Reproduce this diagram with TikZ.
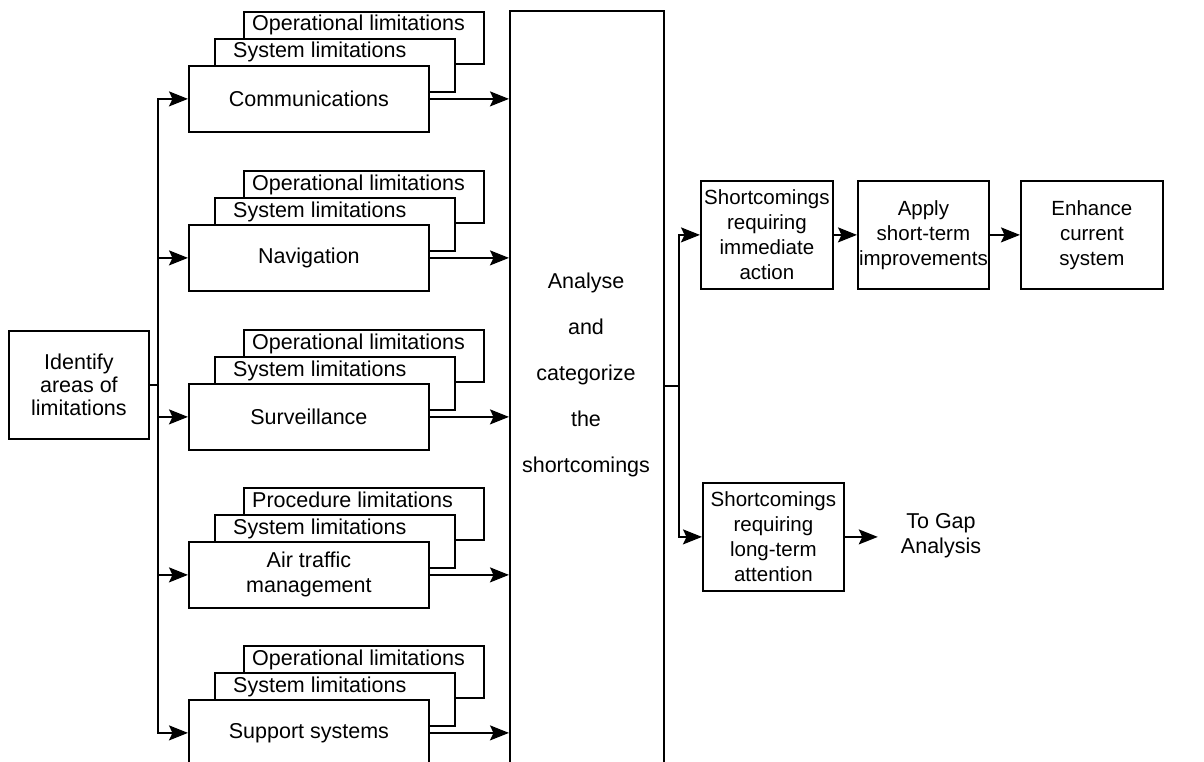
\documentclass[tikz,border=0pt]{standalone}
\usepackage{fontspec}
\setmainfont{Liberation Sans}
\usetikzlibrary{arrows.meta}

\tikzset{
  box/.style={draw, line width=1.8pt, fill=white, inner sep=0pt, anchor=north west},
  lbl/.style={anchor=base west, inner sep=0pt, font=\fontsize{21.5}{25}\selectfont},
  txt/.style={align=center, inner sep=0pt, font=\fontsize{21.5}{25}\selectfont},
  rtxt/.style={align=center, inner sep=0pt, font=\fontsize{20.5}{25}\selectfont},
  flow/.style={line width=1.8pt, -{Stealth[length=19pt,width=15pt,inset=3.5pt]}},
  wire/.style={line width=1.8pt, line cap=rect},
}

% one area of limitations: two stacked limitation cards behind the main box
% #1 node name, #2 top of the main box, #3 upper card, #4 main text
\newcommand\limstack[4]{%
  \node[box, minimum width=240pt, minimum height=52pt] (#1-op) at (243,#2-54) {};
  \node[lbl] (#1-opt) at ([xshift=9pt,yshift=-20pt]#1-op.north west) {#3};
  \node[box, minimum width=240pt, minimum height=53pt] (#1-sys) at (214,#2-27) {};
  \node[lbl] (#1-syst) at ([xshift=19pt,yshift=-20pt]#1-sys.north west) {System limitations};
  \node[box, txt, minimum width=240pt, minimum height=66pt] (#1) at (188,#2) {#4};
  \draw[flow] (#1.west -| ltop) -- (#1.west);
  \draw[flow] (#1.east) -- (#1.east -| an.west);
}

\begin{document}
\begin{tikzpicture}[x=1pt, y=-1pt]
  \useasboundingbox (0,0) rectangle (1204,762);
  \clip (0,0) rectangle (1204,762);

  % central analysis column (runs off the lower edge)
  \node[box, minimum width=154pt, minimum height=800pt] (an) at (509,10) {};
  \node[txt, font=\fontsize{21.5}{46}\selectfont] (antext) at (586,375)
    {Analyse\\and\\categorize\\the\\shortcomings};

  % starting box and the trunk feeding the five areas
  \node[box, txt, font=\fontsize{21.5}{23}\selectfont, minimum width=140pt, minimum height=108pt]
    (ident) at (8,330) {Identify\\areas of\\limitations};
  \coordinate (ltop) at (158,98);

  \limstack{comm}{65}{Operational limitations}{Communications}
  \limstack{nav}{224}{Operational limitations}{Navigation}
  \limstack{surv}{383}{Operational limitations}{Surveillance}
  \limstack{atm}{541}{Procedure limitations}{Air traffic\\management}
  \limstack{supp}{699}{Operational limitations}{Support systems}

  \draw[wire] (comm.west -| ltop) -- (supp.west -| ltop);
  \draw[wire] (ident.east) -- (ident.east -| ltop);

  % categorised outcomes
  \node[box, rtxt, minimum width=132pt, minimum height=108pt] (s1) at (700,180)
    {Shortcomings\\requiring\\immediate\\action};
  \node[box, rtxt, minimum width=131pt, minimum height=108pt] (s2) at (857,180)
    {Apply\\short-term\\improvements};
  \node[box, rtxt, minimum width=142pt, minimum height=108pt] (s3) at (1020,180)
    {Enhance\\current\\system};
  \node[box, rtxt, minimum width=141pt, minimum height=108pt] (s4) at (702,482)
    {Shortcomings\\requiring\\long-term\\attention};
  \node[txt] (gap) at (941,536) {To Gap\\Analysis};

  \coordinate (rj) at (679,386);
  \draw[wire] (rj -| an.east) -- (rj);
  \draw[wire] (rj |- s1.west) -- (rj |- s4.west);
  \draw[flow] (rj |- s1.west) -- (s1.west);
  \draw[flow] (rj |- s4.west) -- (s4.west);
  \draw[flow] (s1.east) -- (s2.west);
  \draw[flow] (s2.east) -- (s3.west);
  \draw[flow, shorten >=23pt] (s4.east) -- (s4.east -| gap.west);
\end{tikzpicture}
\end{document}
